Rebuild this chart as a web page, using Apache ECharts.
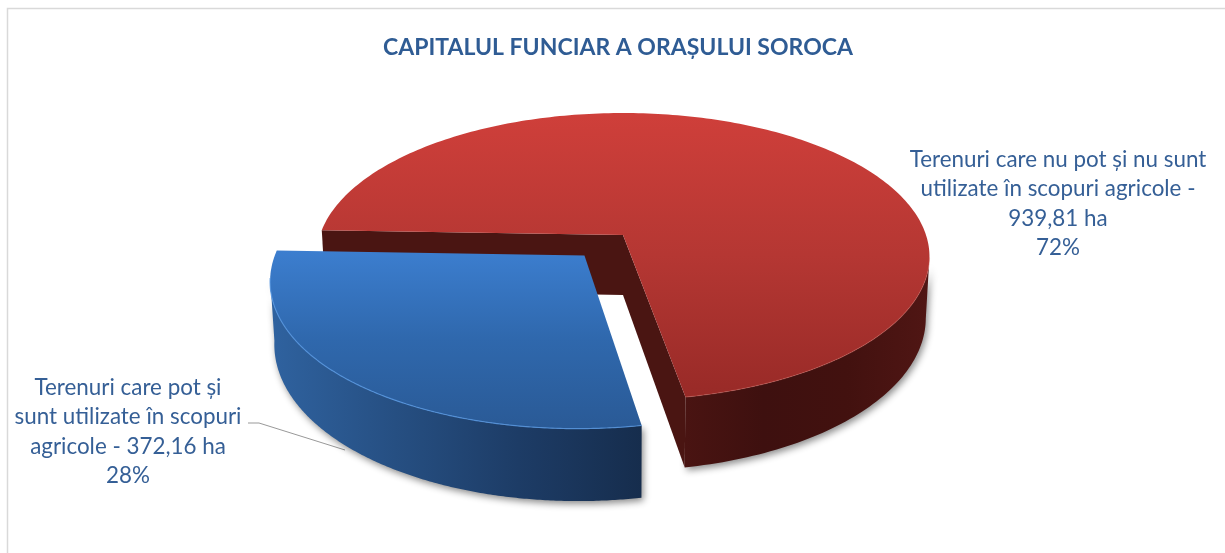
<!DOCTYPE html>
<html><head><meta charset="utf-8">
<style>html,body{margin:0;padding:0;background:#fff}#c{width:1225px;height:553px}</style>
<script src="https://cdn.jsdelivr.net/npm/echarts@6/dist/echarts.min.js"></script>
</head><body><div id="c"></div>
<script>
const chartTitle = "CAPITALUL FUNCIAR A ORAȘULUI SOROCA";
const categories = ["Terenuri care nu pot și nu sunt utilizate în scopuri agricole", "Terenuri care pot și sunt utilizate în scopuri agricole"];
const values = [939.81, 372.16];
const labelLines = [
  ["Terenuri care nu pot și nu sunt", "utilizate în scopuri agricole -", "939,81 ha", "72%"],
  ["Terenuri care pot și", "sunt utilizate în scopuri", "agricole - 372,16 ha", "28%"]
];

const total = values.reduce((a, b) => a + b, 0);
const CX = 623, CY = 235, A = 303, B = 140.3, K = 0.15, D0 = 60, SHRINK = 0.012;
const START = 272;
const EXPLODE = [0, 0.19];
const LG = (x, y, x2, y2, s) => new echarts.graphic.LinearGradient(x, y, x2, y2, s.map((c, i) => ({offset: i / (s.length - 1), color: c})), true);
const SKINS = [
  { top: LG(0, 113, 0, 398, ["#cf3f3a", "#b53733", "#982a27"]), rim: "rgba(225,110,100,0.3)",
    wall: LG(680, 0, 930, 0, ["#4a1412", "#3e100f", "#42110f", "#501614"]), inner: "#4a1512" },
  { top: LG(0, 250, 0, 428, ["#3c7ecf", "#2f68ad", "#2a5a96"]), rim: "rgba(85,150,225,0.8)",
    wall: LG(272, 0, 642, 0, ["#2f629f", "#264f82", "#1d3c66", "#162d4d"]), inner: null }
];
const LABEL_POS = [[1058, 145], [128, 373]];

function proj(X, Y, z) {
  const w = 1 - K * Y;
  return [CX + A * X * (1 - SHRINK * z) / w, CY + B * Y / w + z * D0 / w];
}
function renderItem(params, api) {
  const i = params.dataIndex, v = api.value(0), sweep = v / total * 360;
  let a0 = START;
  for (let j = 0; j < i; j++) a0 += values[j] / total * 360;
  const a1 = a0 + sweep, rad = d => d * Math.PI / 180, mid = rad((a0 + a1) / 2);
  const ex = Math.sin(mid) * EXPLODE[i], ey = -Math.cos(mid) * EXPLODE[i];
  const P = (deg, z) => proj(Math.sin(rad(deg)) + ex, -Math.cos(rad(deg)) + ey, z);
  const apex = z => proj(ex, ey, z);
  const skin = SKINS[i], arc = [], n = 240;
  for (let t = 0; t <= n; t++) arc.push(a0 + (a1 - a0) * t / n);
  const lo = 90 + Math.asin(K) * 180 / Math.PI, hi = 270 - Math.asin(K) * 180 / Math.PI;
  const vis = arc.filter(d => { const m = ((d % 360) + 360) % 360; return m >= lo && m <= hi; });
  const wallPts = vis.map(d => P(d, 0)).concat(vis.slice().reverse().map(d => P(d, 1)));
  const shadow = {shadowBlur: 7, shadowColor: "rgba(0,0,0,0.45)", shadowOffsetX: 2, shadowOffsetY: 3};
  const topPts = [apex(0)].concat(arc.map(d => P(d, 0)));
  const children = [];
  if (i === 1) {
    children.push({type: "polyline", shape: {points: [[248, 423], [259, 423], [345, 450]]},
      style: {stroke: "#999", lineWidth: 1, fill: null}});
  }
  children.push({type: "polygon", shape: {points: wallPts}, style: Object.assign({fill: skin.wall}, shadow)});
  if (skin.inner) {
    children.push({type: "polygon", shape: {points: [P(a0, 0), apex(0), apex(1), P(a0, 1)]}, style: {fill: skin.inner}});
    children.push({type: "polygon", shape: {points: [P(a1, 0), apex(0), apex(1), P(a1, 1)]}, style: {fill: skin.inner}});
  }
  children.push({type: "polygon", shape: {points: topPts}, style: {fill: skin.top}});
  children.push({type: "polyline", shape: {points: vis.map(d => P(d, 0))}, style: {stroke: skin.rim, lineWidth: 1.2, fill: null}});
  children.push({type: "text", style: {text: labelLines[i].join("\n"), x: LABEL_POS[i][0], y: LABEL_POS[i][1],
    textAlign: "center", textVerticalAlign: "top", fontFamily: "Lato", fontSize: 22.4, lineHeight: 29.5, fill: "#355f96"}});
  return {type: "group", children};
}
const chart = echarts.init(document.getElementById("c"), null, {renderer: "canvas"});
chart.setOption({
  animation: false,
  backgroundColor: "#fff",
  title: {text: chartTitle, left: 613, top: 31, textAlign: "center",
    textStyle: {fontFamily: "Lato", fontWeight: "bold", fontSize: 23, color: "#2f5c94"}},
  graphic: [{type: "polyline", silent: true, shape: {points: [[7.5, 553], [7.5, 8.5], [1225, 8.5]]},
    style: {stroke: "#d9d9d9", lineWidth: 1.5, fill: null}}],
  series: [{type: "custom", coordinateSystem: "none", renderItem,
    data: values.map((v, i) => ({name: categories[i], value: [v]}))}]
});
</script></body></html>
